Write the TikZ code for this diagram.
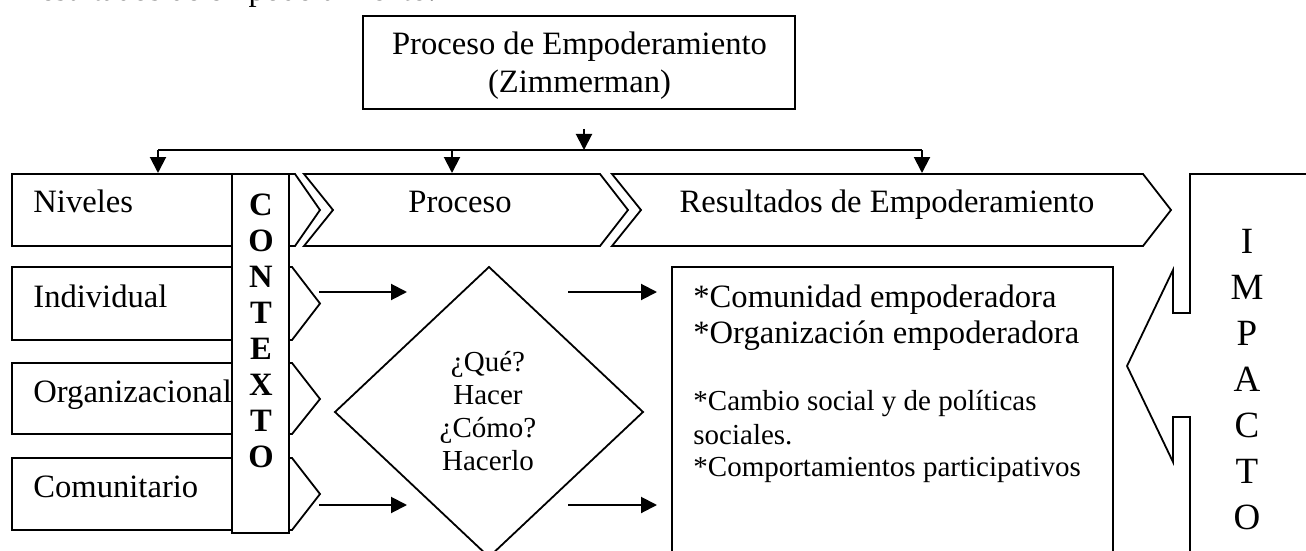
\documentclass[tikz,border=0pt]{standalone}
\usepackage{fontspec}
\setmainfont{Liberation Serif}
\usetikzlibrary{arrows.meta}
\newcommand\fmain{\fontsize{16.3}{19}\selectfont}
\newcommand\fsmall{\fontsize{14.5}{17}\selectfont}
\newcommand\fbig{\fontsize{18.5}{22}\selectfont}
\begin{document}
\begin{tikzpicture}[x=0.5pt,y=-0.5pt,
  shp/.style={draw=black, line width=0.9pt, line join=miter},
  arr/.style={draw=black, line width=1pt, -{Triangle[length=8pt,width=8pt]}},
  lbl/.style={font=\fmain, anchor=base west, inner sep=0pt},
  lblc/.style={font=\fmain, anchor=base, inner sep=0pt},
  sml/.style={font=\fsmall, anchor=base, inner sep=0pt},
  smlw/.style={font=\fsmall, anchor=base west, inner sep=0pt},
  ctxl/.style={font=\fmain\bfseries, anchor=base, inner sep=0pt},
  impl/.style={font=\fbig, anchor=base, inner sep=0pt}]
\useasboundingbox (0,0) rectangle (1306,551);
\clip (0,0) rectangle (1306,551);

% cut line of text at the very top
\node[lbl] (frag) at (29,1) {resultados de empoderamiento.};

% title box
\draw[shp] (363,16) rectangle (795,109);
\node[lblc] (t1) at (579.5,55) {Proceso de Empoderamiento};
\node[lblc] (t2) at (579.5,93) {(Zimmerman)};

% distribution arrows
\coordinate (a0) at (584,129);
\coordinate (a1) at (584,150);
\coordinate (hl) at (158,150);
\coordinate (hr) at (922,150);
\coordinate (hm) at (452,150);
\coordinate (dl) at (158,173);
\coordinate (dm) at (452,173);
\coordinate (dr) at (922,173);
\draw[arr] (a0) -- (a1);
\draw[shp] (hl) -- (hr);
\draw[arr] (hl) -- (dl);
\draw[arr] (hm) -- (dm);
\draw[arr] (hr) -- (dr);

% left level shapes
\draw[shp] (12,174) -- (295,174) -- (320,210) -- (295,246) -- (12,246) -- cycle;
\draw[shp] (12,267) -- (292,267) -- (320,303.5) -- (292,340) -- (12,340) -- cycle;
\draw[shp] (12,363) -- (292,363) -- (320,399) -- (292,434) -- (12,434) -- cycle;
\draw[shp] (12,458) -- (292,458) -- (320,494) -- (292,530) -- (12,530) -- cycle;
\node[lbl] (niv) at (33,213) {Niveles};
\node[lbl] (ind) at (33,307) {Individual};
\node[lbl] (org) at (33,402) {Organizacional};
\node[lbl] (com) at (33,497) {Comunitario};

% CONTEXTO column
\draw[shp, fill=white] (232,174) rectangle (289,533);
\foreach \l [count=\i from 0] in {C,O,N,T,E,X,T,O}
  \node[ctxl] (ctx\i) at (261,{215+36*\i}) {\l};

% chevrons
\draw[shp] (304,174) -- (600,174) -- (628,210) -- (600,246) -- (304,246) -- (333,210) -- cycle;
\draw[shp] (612,174) -- (1143,174) -- (1171,210) -- (1143,246) -- (612,246) -- (641,210) -- cycle;
\node[lblc] (pro) at (460,213) {Proceso};
\node[lblc] (resu) at (887,213) {Resultados de Empoderamiento};

% diamond
\draw[shp] (489,267) -- (643,412) -- (489,557) -- (335,412) -- cycle;
\node[sml] (q1) at (488,371) {¿Qué?};
\node[sml] (q2) at (488,404) {Hacer};
\node[sml] (q3) at (488,437) {¿Cómo?};
\node[sml] (q4) at (488,470) {Hacerlo};

% horizontal arrows
\coordinate (l1a) at (319,292); \coordinate (l1b) at (407,292);
\coordinate (l2a) at (319,505); \coordinate (l2b) at (407,505);
\coordinate (r1a) at (568,292); \coordinate (r1b) at (657,292);
\coordinate (r2a) at (568,505); \coordinate (r2b) at (657,505);
\draw[arr] (l1a) -- (l1b);
\draw[arr] (l2a) -- (l2b);
\draw[arr] (r1a) -- (r1b);
\draw[arr] (r2a) -- (r2b);

% results box
\draw[shp] (672,560) -- (672,267) -- (1113,267) -- (1113,560);
\node[lbl] (res1) at (693,307) {*Comunidad empoderadora};
\node[lbl] (res2) at (693,343) {*Organización empoderadora};
\node[smlw] (res3) at (693,410) {*Cambio social y de políticas};
\node[smlw] (res4) at (693,444) {sociales.};
\node[smlw] (res5) at (693,476) {*Comportamientos participativos};

% IMPACTO callout
\draw[shp] (1320,174) -- (1190,174) -- (1190,313) -- (1173,313) -- (1173,270)
  -- (1127,366) -- (1173,462) -- (1173,417) -- (1190,417) -- (1190,560);
\foreach \l [count=\i from 0] in {I,M,P,A,C,T,O}
  \node[impl] (imp\i) at (1247,{253+46*\i}) {\l};
\end{tikzpicture}
\end{document}
